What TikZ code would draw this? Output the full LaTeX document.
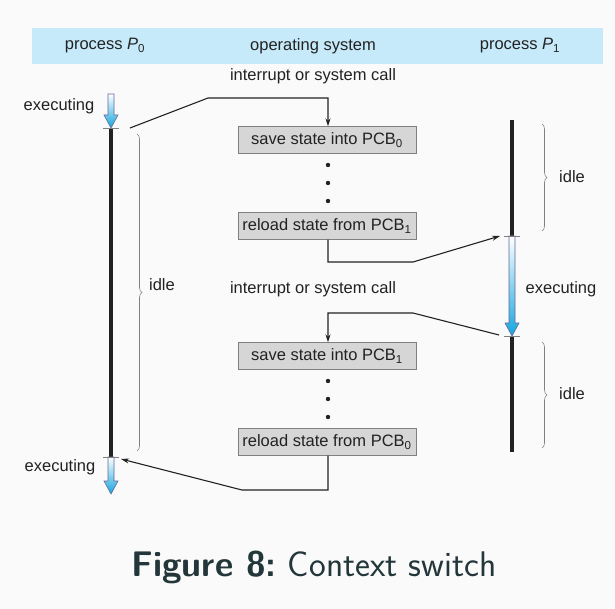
\documentclass[tikz,border=0pt]{standalone}
\usepackage{fontspec}
\newfontfamily\figfont{Liberation Sans}
\usetikzlibrary{arrows.meta,decorations.pathreplacing,positioning}
\definecolor{bgc}{HTML}{FAFAFA}
\definecolor{band}{HTML}{C6EAFA}
\definecolor{boxfill}{HTML}{D6D6D6}
\definecolor{ink}{HTML}{222222}
\definecolor{execblue}{HTML}{13A6DE}
\definecolor{capcol}{HTML}{23373B}
\tikzset{
  txt/.style={font=\figfont\fontsize{16.5}{18}\selectfont, text=ink, inner sep=0pt},
  statebox/.style={txt, draw=gray, fill=boxfill, minimum width=178pt, minimum height=27pt},
  link/.style={ink, line width=1.1pt, -{Stealth[length=8pt,width=5pt]}},
  run/.style={ink, line width=4pt},
  tick/.style={gray, line width=0.6pt},
  idlebrace/.style={gray, line width=0.6pt, decorate, decoration={brace, amplitude=5pt}}
}
\begin{document}
\begin{tikzpicture}[x=1pt,y=-1pt]
  \fill [bgc] (0,0) rectangle (615,609);
  \useasboundingbox (0,0) rectangle (615,609);
  \fill [band] (32,28) rectangle (603,64);
  \node [txt] (hp0) at (105,46) {process \textit{P}\textsubscript{0}};
  \node [txt] (hos) at (313,46) {operating system};
  \node [txt] (hp1) at (520,46) {process \textit{P}\textsubscript{1}};
  % the two processes
  \draw [run] (111,128) -- (111,457);
  \draw [run] (512,120) -- (512,236);
  \draw [run] (512,336) -- (512,452);
  \foreach \x/\ya/\yb in {111/94/128, 111/457/494, 512/236/336} {
    \shade [top color=white, bottom color=execblue, draw=gray!80!blue, line width=0.6pt]
      (\x-3,\ya) -- (\x+3,\ya) -- (\x+3,\yb-13) -- (\x+7,\yb-13) -- (\x,\yb)
      -- (\x-7,\yb-13) -- (\x-3,\yb-13) -- cycle;
  }
  \foreach \x/\y in {111/128, 111/457, 512/236, 512/336}
    \draw [tick] (\x-8,\y) -- (\x+8,\y);
  \node [txt] (ex1) at (59,106) {executing};
  \node [txt] (ex2) at (60,467) {executing};
  \node [txt] (ex3) at (561,289) {executing};
  \draw [idlebrace] (137,134) -- (137,451);
  \draw [idlebrace] (542,124) -- (542,231);
  \draw [idlebrace] (542,342) -- (542,448);
  \node [txt] (id0) at (162,285) {idle};
  \node [txt] (id1) at (572,177) {idle};
  \node [txt] (id2) at (572,394) {idle};
  % operating system
  \node [txt] (call1) at (313,76) {interrupt or system call};
  \node [txt] (call2) at (313,289) {interrupt or system call};
  \node [statebox] (save0) at (327,140) {save state into PCB\textsubscript{0}};
  \node [statebox] (load1) at (327,226) {reload state from PCB\textsubscript{1}};
  \node [statebox] (save1) at (327,356) {save state into PCB\textsubscript{1}};
  \node [statebox] (load0) at (327,442) {reload state from PCB\textsubscript{0}};
  \foreach \y in {165,183,201,381,399,417}
    \fill [ink] (328,\y) circle (2.2pt);
  \coordinate (p0out) at (130,128);
  \coordinate (p0in) at (121,459);
  \coordinate (p1in) at (500,236);
  \coordinate (p1out) at (499,335);
  \draw [link] (p0out) -- (208,98) -- (328,98) -- (save0.north -| 328,0);
  \draw [link] (load1.south -| 328,0) -- (328,262) -- (413,262) -- (p1in);
  \draw [link] (p1out) -- (413,313) -- (328,313) -- (save1.north -| 328,0);
  \draw [link] (load0.south -| 328,0) -- (328,490) -- (242,490) -- (p0in);
  \node [font=\sffamily\fontsize{35.6}{38}\selectfont, text=capcol] (cap) at (314,567)
    {\textbf{Figure 8:}\ Context switch};
\end{tikzpicture}
\end{document}
